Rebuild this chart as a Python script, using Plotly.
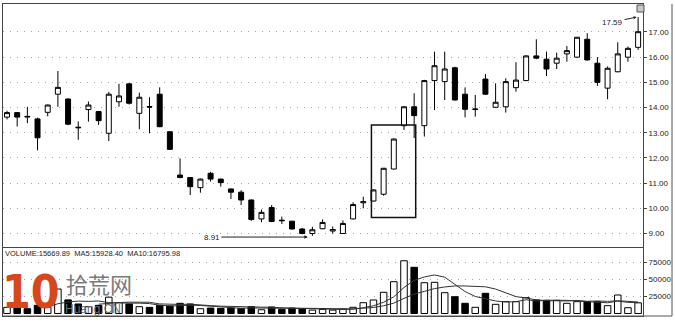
import plotly.graph_objects as go
import pandas as pd

# ---------------- data ----------------
day = list(range(1, 64))
open_ = [13.62, 13.80, 13.65, 13.55, 13.81, 14.53, 14.34, 13.22, 13.92, 13.84,
         12.98, 14.23, 14.94, 13.77, 14.04, 14.53, 13.04, 11.32, 11.22, 10.82,
         11.39, 11.16, 10.77, 10.64, 10.33, 9.58, 10.03, 9.53, 9.49, 9.18,
         9.00, 9.19, 9.10, 9.00, 9.58, 10.22, 10.29, 10.56, 11.56, 13.28,
         14.03, 13.28, 15.07, 15.03, 15.58, 14.53, 13.92, 15.13, 14.01, 14.03,
         14.79, 15.07, 16.05, 15.92, 15.76, 16.13, 16.00, 16.71, 15.76, 14.77,
         15.42, 16.00, 16.39]
high = [13.87, 13.82, 14.03, 13.60, 14.12, 15.45, 14.36, 13.45, 14.24, 13.86,
        14.62, 14.94, 14.97, 14.59, 14.41, 14.80, 13.06, 11.98, 11.24, 11.18,
        11.45, 11.18, 10.78, 10.72, 10.35, 9.95, 10.13, 9.67, 9.50, 9.22,
        9.27, 9.56, 9.28, 9.52, 10.24, 10.46, 10.75, 11.60, 12.77, 14.05,
        14.57, 15.10, 16.22, 16.22, 15.62, 14.80, 14.50, 15.33, 14.96, 15.16,
        15.80, 16.07, 16.71, 16.22, 16.18, 16.44, 16.80, 16.95, 16.00, 15.63,
        16.59, 16.42, 17.59]
low = [13.53, 13.25, 13.38, 12.30, 13.65, 14.03, 13.30, 12.72, 13.44, 13.31,
       12.67, 14.03, 14.12, 13.14, 12.98, 13.22, 12.32, 11.20, 10.53, 10.62,
       11.06, 10.86, 10.37, 10.13, 9.50, 9.45, 9.45, 9.38, 9.16, 8.97,
       8.91, 9.17, 9.00, 8.98, 9.56, 10.00, 10.27, 10.50, 11.55, 13.11,
       12.79, 12.85, 13.90, 14.30, 14.28, 13.61, 13.64, 14.50, 14.00, 13.80,
       14.63, 15.05, 15.92, 15.25, 15.53, 15.82, 15.98, 15.87, 14.86, 14.33,
       15.40, 15.82, 16.29]
close = [13.80, 13.62, 13.63, 12.80, 14.10, 14.80, 13.34, 13.20, 14.10, 13.48,
         14.53, 14.46, 14.17, 14.41, 14.02, 13.24, 12.34, 11.22, 10.86, 11.16,
         11.16, 11.02, 10.64, 10.33, 9.56, 9.84, 9.48, 9.51, 9.18, 9.00,
         9.15, 9.44, 9.16, 9.40, 10.15, 10.26, 10.73, 11.59, 12.75, 14.03,
         13.68, 15.07, 15.66, 15.53, 14.30, 13.93, 13.94, 14.53, 14.21, 15.03,
         15.09, 16.05, 15.96, 15.53, 15.96, 16.26, 16.79, 15.89, 15.00, 15.56,
         16.13, 16.35, 17.01]
volume = [9000, 8000, 7000, 12000, 9000, 36000, 20000, 14000, 10000, 12000,
          24000, 16000, 14000, 10000, 9000, 12000, 11000, 15000, 14000, 7000,
          8000, 7500, 8000, 7500, 10000, 5500, 9500, 6000, 8000, 7000,
          5000, 6000, 5000, 6500, 9100, 15900, 19900, 31200, 46800, 77600,
          68000, 45300, 45900, 30600, 24700, 15000, 9100, 29700, 13500, 17400,
          17400, 23300, 19900, 19400, 19400, 15000, 17400, 17400, 17400, 11500,
          27200, 8500, 15670]

price_ticks = [9, 10, 11, 12, 13, 14, 15, 16, 17]
vol_ticks = [25000, 50000, 75000]
vol_label = "VOLUME:15669.89  MA5:15928.40  MA10:16795.98"

# ---------------- derived ----------------
vol_s = pd.Series(volume, dtype=float)
ma5 = vol_s.rolling(5).mean()
ma10 = vol_s.rolling(10).mean()
bar_fill = ["#ffffff" if c >= o else "#000000" for o, c in zip(open_, close)]

# ---------------- geometry ----------------
W, H = 675, 324
L, R, T, B = 3, 32, 4, 8
plot_w = W - L - R
plot_h = H - T - B


def px(xpix):
    return (xpix - L) / plot_w


def py(ypix):
    return (H - B - ypix) / plot_h


fig = go.Figure()

fig.add_trace(go.Candlestick(
    x=day, open=open_, high=high, low=low, close=close,
    increasing=dict(line=dict(color="#000000", width=1), fillcolor="#ffffff"),
    decreasing=dict(line=dict(color="#000000", width=1), fillcolor="#000000"),
    whiskerwidth=0, xaxis="x", yaxis="y", showlegend=False, hoverinfo="skip",
))

fig.add_trace(go.Bar(
    x=day, y=volume, width=0.64,
    marker=dict(color=bar_fill, line=dict(color="#000000", width=1)),
    xaxis="x2", yaxis="y2", showlegend=False, hoverinfo="skip",
))
fig.add_trace(go.Scatter(x=day, y=ma5, mode="lines",
                         line=dict(color="#333333", width=1),
                         xaxis="x2", yaxis="y2", showlegend=False, hoverinfo="skip"))
fig.add_trace(go.Scatter(x=day, y=ma10, mode="lines",
                         line=dict(color="#333333", width=1),
                         xaxis="x2", yaxis="y2", showlegend=False, hoverinfo="skip"))

xr = [0.607, 63.48]
price_bottom = py(247)
vol_top = py(248)

axis_common = dict(showline=True, linecolor="#444444", linewidth=1, mirror=True,
                   zeroline=False)
grid_common = dict(showgrid=True, gridcolor="#a8a8a8", griddash="1px,6px", gridwidth=1)

fig.update_layout(
    width=W, height=H,
    margin=dict(l=L, r=R, t=T, b=B),
    paper_bgcolor="#ffffff", plot_bgcolor="#ffffff",
    font=dict(family="Liberation Sans, Arial, sans-serif", size=8, color="#222222"),
    xaxis=dict(domain=[0, 1], range=xr, showticklabels=False, showgrid=False,
               rangeslider=dict(visible=False), anchor="y", **axis_common),
    yaxis=dict(domain=[price_bottom, 1], range=[8.465, 18.11], side="right",
               tickvals=price_ticks, tickformat=".2f", ticks="outside", ticklen=3,
               tickcolor="#444444", anchor="x",
               tickfont=dict(size=8, color="#222222"), **grid_common, **axis_common),
    xaxis2=dict(domain=[0, 1], range=xr, showticklabels=False, showgrid=False,
                matches="x", anchor="y2", **axis_common),
    yaxis2=dict(domain=[0, vol_top], range=[-3700, 96400], side="right",
                tickvals=vol_ticks, tickformat="d", ticks="outside", ticklen=3,
                tickcolor="#444444", anchor="x2",
                tickfont=dict(size=8, color="#222222"), **grid_common, **axis_common),
)

shapes = []
# highlight box
shapes.append(dict(type="rect", xref="x", yref="y", x0=36.8, x1=41.15, y0=9.64, y1=13.31,
                   line=dict(color="#111111", width=1.5), fillcolor="rgba(0,0,0,0)"))
# outer right frame and bottom line
shapes.append(dict(type="line", xref="paper", yref="paper", x0=px(672), x1=px(672),
                   y0=py(4), y1=py(316), line=dict(color="#555555", width=1)))
shapes.append(dict(type="line", xref="paper", yref="paper", x0=px(3), x1=px(672),
                   y0=py(316), y1=py(316), line=dict(color="#555555", width=1)))
# small icon top right
shapes.append(dict(type="rect", xref="paper", yref="paper", x0=px(637), x1=px(644),
                   y0=py(12), y1=py(5), line=dict(color="#555555", width=1),
                   fillcolor="#c8c8c8"))
fig.update_layout(shapes=shapes)

ann = []
ann.append(dict(x=30.55, y=8.86, xref="x", yref="y", text="8.91", showarrow=True,
                ax=-96, ay=0, arrowhead=2, arrowsize=0.7, arrowwidth=1,
                arrowcolor="#222222", font=dict(size=8, color="#222222")))
ann.append(dict(x=62.85, y=17.59, xref="x", yref="y", text="17.59", showarrow=True,
                ax=-24, ay=5, arrowhead=2, arrowsize=0.6, arrowwidth=1,
                arrowcolor="#222222", font=dict(size=8, color="#222222")))
ann.append(dict(x=px(3), y=py(253), xref="paper", yref="paper", text=vol_label,
                showarrow=False, xanchor="left", yanchor="middle",
                font=dict(size=7.5, color="#222222")))
# watermark
ann.append(dict(x=px(31), y=py(292), xref="paper", yref="paper", text="<b>10</b>",
                showarrow=False, xanchor="center", yanchor="middle",
                font=dict(size=46, color="#d8461b",
                          family="Liberation Sans Narrow, DejaVu Sans Condensed, Arial Narrow, sans-serif")))
ann.append(dict(x=px(99), y=py(283), xref="paper", yref="paper", text="拾荒网",
                showarrow=False, xanchor="center", yanchor="middle",
                font=dict(size=22, color="#7a7a7a", family="Noto Sans CJK SC")))
ann.append(dict(x=px(93), y=py(309), xref="paper", yref="paper", text="Huang.CN",
                showarrow=False, xanchor="center", yanchor="middle",
                font=dict(size=12, color="#6e6e6e", family="Liberation Sans, Arial")))
fig.update_layout(annotations=ann)

fig.write_html("out.html")
